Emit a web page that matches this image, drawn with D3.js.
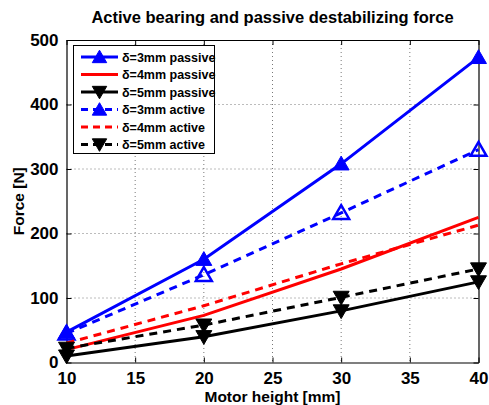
<!DOCTYPE html>
<html>
<head>
<meta charset="utf-8">
<script src="https://cdn.jsdelivr.net/npm/d3@7"></script>
<style>
  body { margin: 0; background: #fff; }
  text { font-family: "Liberation Sans", Arial, sans-serif; font-weight: bold; }
</style>
</head>
<body>
<svg id="chart" width="489" height="405"></svg>
<script>
// data
const heights = [10, 20, 30, 40];
const passive3 = [47, 160, 308, 473];
const passive4 = [20, 73, 145, 225];
const passive5 = [10, 40, 80, 125];
const active3 = [45, 136, 232, 330];
const active4 = [30, 88, 153, 213];
const active5 = [22, 58, 101, 145];
const xTicks = [10, 15, 20, 25, 30, 35, 40];
const yTicks = [0, 100, 200, 300, 400, 500];

const series = [
  { name: "δ=3mm passive", values: passive3, color: "#0000ff", dash: null, marker: "up", fill: true },
  { name: "δ=4mm passive", values: passive4, color: "#ff0000", dash: null, marker: null },
  { name: "δ=5mm passive", values: passive5, color: "#000000", dash: null, marker: "down", fill: true },
  { name: "δ=3mm active", values: active3, color: "#0000ff", dash: "8,6", marker: "up", fill: false },
  { name: "δ=4mm active", values: active4, color: "#ff0000", dash: "8,6", marker: null },
  { name: "δ=5mm active", values: active5, color: "#000000", dash: "8,6", marker: "down", fill: true }
];

const svg = d3.select("#chart");
const pLeft = 66.5, pRight = 478.5, pTop = 40, pBottom = 362.5;

const x = d3.scaleLinear().domain([10, 40]).range([pLeft, pRight]);
const y = d3.scaleLinear().domain([0, 500]).range([pBottom, pTop]);

// grid
const grid = svg.append("g").attr("stroke", "#555").attr("stroke-width", 0.8).attr("stroke-dasharray", "1,3");
grid.selectAll(".gx").data(xTicks.slice(1, -1)).join("line")
  .attr("x1", d => x(d)).attr("x2", d => x(d)).attr("y1", pTop).attr("y2", pBottom);
grid.selectAll(".gy").data(yTicks.slice(1, -1)).join("line")
  .attr("x1", pLeft).attr("x2", pRight).attr("y1", d => y(d)).attr("y2", d => y(d));

// axes with inward ticks
const xAxis = d3.axisBottom(x).tickValues(xTicks).tickSizeInner(-5).tickSizeOuter(0).tickPadding(9);
const yAxis = d3.axisLeft(y).tickValues(yTicks).tickSizeInner(-5).tickSizeOuter(0).tickPadding(8);
const gx = svg.append("g").attr("transform", `translate(0,${pBottom})`).call(xAxis);
const gy = svg.append("g").attr("transform", `translate(${pLeft},0)`).call(yAxis);
svg.append("g").attr("transform", `translate(0,${pTop})`)
  .call(d3.axisTop(x).tickValues(xTicks).tickSizeInner(-5).tickSizeOuter(0).tickFormat(""));
svg.append("g").attr("transform", `translate(${pRight},0)`)
  .call(d3.axisRight(y).tickValues(yTicks).tickSizeInner(-5).tickSizeOuter(0).tickFormat(""));
svg.selectAll(".domain").attr("stroke", "#000").attr("stroke-width", 1.2);
svg.selectAll(".tick line").attr("stroke", "#000");
gx.selectAll("text").attr("font-size", 17).attr("fill", "#000").attr("font-family", "Liberation Sans, Arial");
gy.selectAll("text").attr("font-size", 17).attr("fill", "#000").attr("font-family", "Liberation Sans, Arial");

// lines
const line = d3.line().x((d, i) => x(heights[i])).y(d => y(d));

function drawMarker(g, type, color, fill, cx, cy, size) {
  g.append("path")
    .attr("d", d3.symbol().type(d3.symbolTriangle).size(size)())
    .attr("transform", `translate(${cx},${cy + (type === "up" ? 1.5 : -1.5)}) rotate(${type === "down" ? 180 : 0})`)
    .attr("fill", fill ? color : "none")
    .attr("stroke", color)
    .attr("stroke-width", fill ? 1 : 2.5);
}

series.forEach(s => {
  svg.append("path")
    .datum(s.values)
    .attr("d", line)
    .attr("fill", "none")
    .attr("stroke", s.color)
    .attr("stroke-width", 3)
    .attr("stroke-dasharray", s.dash);
  if (s.marker) {
    const g = svg.append("g");
    s.values.forEach((v, i) => drawMarker(g, s.marker, s.color, s.fill, x(heights[i]), y(v), 110));
  }
});

// legend
const lg = svg.append("g");
lg.append("rect").attr("x", 73.5).attr("y", 45.5).attr("width", 141).attr("height", 108)
  .attr("fill", "#fff").attr("stroke", "#000").attr("stroke-width", 1);
series.forEach((s, i) => {
  const ly = 57 + i * 17.5;
  lg.append("line").attr("x1", 81).attr("x2", 118).attr("y1", ly).attr("y2", ly)
    .attr("stroke", s.color).attr("stroke-width", 3).attr("stroke-dasharray", s.dash ? "7,5" : null);
  if (s.marker) drawMarker(lg, s.marker, s.color, true, 99.5, ly, 90);
  lg.append("text").attr("x", 122).attr("y", ly + 4.5).attr("font-size", 12.5).text(s.name);
});

// titles
svg.append("text").attr("x", (pLeft + pRight) / 2).attr("y", 23).attr("text-anchor", "middle")
  .attr("font-size", 16.5).text("Active bearing and passive destabilizing force");
svg.append("text").attr("x", (pLeft + pRight) / 2).attr("y", 401.5).attr("text-anchor", "middle")
  .attr("font-size", 15.5).text("Motor height [mm]");
svg.append("text").attr("transform", `translate(24,${(pTop + pBottom) / 2}) rotate(-90)`)
  .attr("text-anchor", "middle").attr("font-size", 15.5).text("Force [N]");
</script>
</body>
</html>
